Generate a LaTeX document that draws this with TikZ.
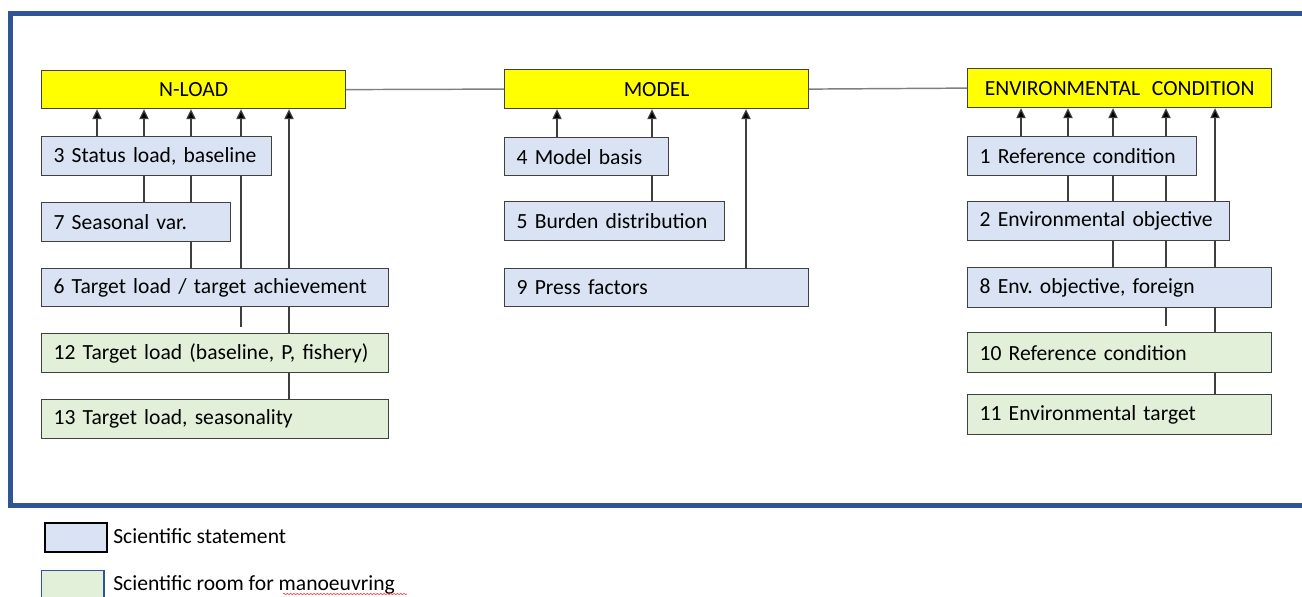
\documentclass[tikz,border=0pt]{standalone}
\usepackage{fontspec}
\setmainfont{Carlito}
\usetikzlibrary{arrows.meta,decorations.pathmorphing}

\definecolor{frameblue}{HTML}{2F5597}
\definecolor{headyellow}{HTML}{FFFF00}
\definecolor{statefill}{HTML}{DAE3F3}
\definecolor{roomfill}{HTML}{E2F0D9}
\definecolor{edgegray}{HTML}{404040}
\definecolor{linkgray}{HTML}{3F3F3F}
\definecolor{barline}{HTML}{7F7F7F}

% box from corner (x1,y1) to corner (x2,y2), in pixel units; text kept on one line
\newcommand\mkbox[7]{%
  \pgfmathsetlengthmacro\mybw{(#5-#3)*0.75pt}%
  \pgfmathsetlengthmacro\mybh{(#6-#4)*0.75pt}%
  \pgfmathsetlengthmacro\mytw{(#5-#3)*0.75pt-18pt}%
  \node[#2, anchor=north west, minimum width=\mybw, minimum height=\mybh,
        text width=\mytw, inner xsep=9pt, inner ysep=0pt] (#1) at (#3,#4) {\mbox{#7}};}

\tikzset{
  txt/.style={font=\fontsize{16.2}{19}\selectfont\frenchspacing, text=black},
  headbox/.style={txt, draw=edgegray, line width=0.9pt, fill=headyellow, align=center},
  statebox/.style={txt, draw=edgegray, line width=0.9pt, fill=statefill, align=left},
  roombox/.style={txt, draw=edgegray, line width=0.9pt, fill=roomfill, align=left},
  link/.style={draw=linkgray, line width=0.9pt},
  arr/.style={link, -{Triangle[length=7.5pt,width=7pt,fill=black]}},
  bar/.style={draw=barline, line width=1.1pt},
}

\begin{document}
\begin{tikzpicture}[x=0.75pt, y=-0.75pt]
\useasboundingbox (0,0) rectangle (1302,596);
\clip (0,0) rectangle (1302,596);

% outer frame (runs past the right edge)
\draw[frameblue, line width=3.8pt] (10.5,13.5) rectangle (1330,505.5);

% column positions of the vertical links
\foreach \n/\x in {a1/97,a2/144,a3/191,a4/241,a5/289,
                   b1/557,b2/652,b3/746,
                   e1/1021,e2/1068,e3/1113,e4/1166,e5/1215}
  \coordinate (\n) at (\x,0);

% headers
\mkbox{nload}{headbox}{41}{70}{345}{108}{N-LOAD}
\mkbox{model}{headbox}{504}{69}{808}{108}{MODEL}
\mkbox{env}{headbox}{967}{68}{1271}{107}{ENVIRONMENTAL\hspace{0.55em}CONDITION}

% N-load column
\mkbox{n3}{statebox}{41}{136}{271}{175}{3 Status load, baseline}
\mkbox{n7}{statebox}{41}{202}{230}{241}{7 Seasonal var.}
\mkbox{n6}{statebox}{41}{268}{388}{306}{6 Target load / target achievement}
\mkbox{n12}{roombox}{41}{333}{388}{372}{12 Target load (baseline, P, fishery)}
\mkbox{n13}{roombox}{41}{399}{388}{438}{13 Target load, seasonality}

% model column
\mkbox{n4}{statebox}{504}{137}{668}{175}{4 Model basis}
\mkbox{n5}{statebox}{504}{201}{724}{240}{5 Burden distribution}
\mkbox{n9}{statebox}{504}{268}{808}{306}{9 Press factors}

% environmental condition column
\mkbox{n1}{statebox}{967}{136}{1196}{175}{1 Reference condition}
\mkbox{n2}{statebox}{967}{201}{1229}{240}{2 Environmental objective}
\mkbox{n8}{statebox}{967}{267}{1271}{307}{8 Env. objective, foreign}
\mkbox{n10}{roombox}{967}{332}{1271}{372}{10 Reference condition}
\mkbox{n11}{roombox}{967}{394}{1271}{434}{11 Environmental target}

% header bar
\draw[bar] (nload.east) -- (model.west);
\draw[bar] (model.east) -- (env.west);

% N-load links
\foreach \c in {a1,a2,a3,a4}
  \draw[arr] (n3.north -| \c) -- (nload.south -| \c);
\draw[arr] (n6.north -| a5) -- (nload.south -| a5);
\draw[link] (n3.south -| a2) -- (n7.north -| a2);
\draw[link] (n3.south -| a3) -- (n7.north -| a3);
\draw[link] (n7.south -| a3) -- (n6.north -| a3);
\draw[link] (n3.south -| a4) -- (n6.north -| a4);
\draw[link, shorten >=4.5pt] (n6.south -| a4) -- (n12.north -| a4);
\draw[link] (n6.south -| a5) -- (n12.north -| a5);
\draw[link] (n12.south -| a5) -- (n13.north -| a5);

% model links
\draw[arr] (n4.north -| b1) -- (model.south -| b1);
\draw[arr] (n4.north -| b2) -- (model.south -| b2);
\draw[arr] (n9.north -| b3) -- (model.south -| b3);
\draw[link] (n4.south -| b2) -- (n5.north -| b2);

% environmental condition links
\foreach \c in {e1,e2,e3,e4}
  \draw[arr] (n1.north -| \c) -- (env.south -| \c);
\draw[arr] (n2.north -| e5) -- (env.south -| e5);
\foreach \c in {e2,e3,e4}
  \draw[link] (n1.south -| \c) -- (n2.north -| \c);
\foreach \c in {e3,e4,e5}
  \draw[link] (n2.south -| \c) -- (n8.north -| \c);
\draw[link, shorten >=4.5pt] (n8.south -| e4) -- (n10.north -| e4);
\draw[link] (n8.south -| e5) -- (n10.north -| e5);
\draw[link] (n10.south -| e5) -- (n11.north -| e5);

% legend
\node[draw=black, line width=1.6pt, fill=statefill, anchor=north west,
      minimum width=47pt, minimum height=22pt, inner sep=0pt] (lg1) at (43.5,521.5) {};
\node[txt, anchor=west, inner sep=0pt] (lg1t) at (113,536) {Scientific statement};
\node[draw=frameblue, line width=1.3pt, fill=roomfill, anchor=north west,
      minimum width=47pt, minimum height=24pt, inner sep=0pt] (lg2) at (40.5,569.5) {};
\node[txt, anchor=west, inner sep=0pt] (lg2t) at (113,585) {Scientific room for manoeuvring};
\draw[red!75, line width=0.5pt, decorate,
      decoration={snake, amplitude=0.5pt, segment length=2.5pt}] (283,594) -- (407,594);
\end{tikzpicture}
\end{document}
